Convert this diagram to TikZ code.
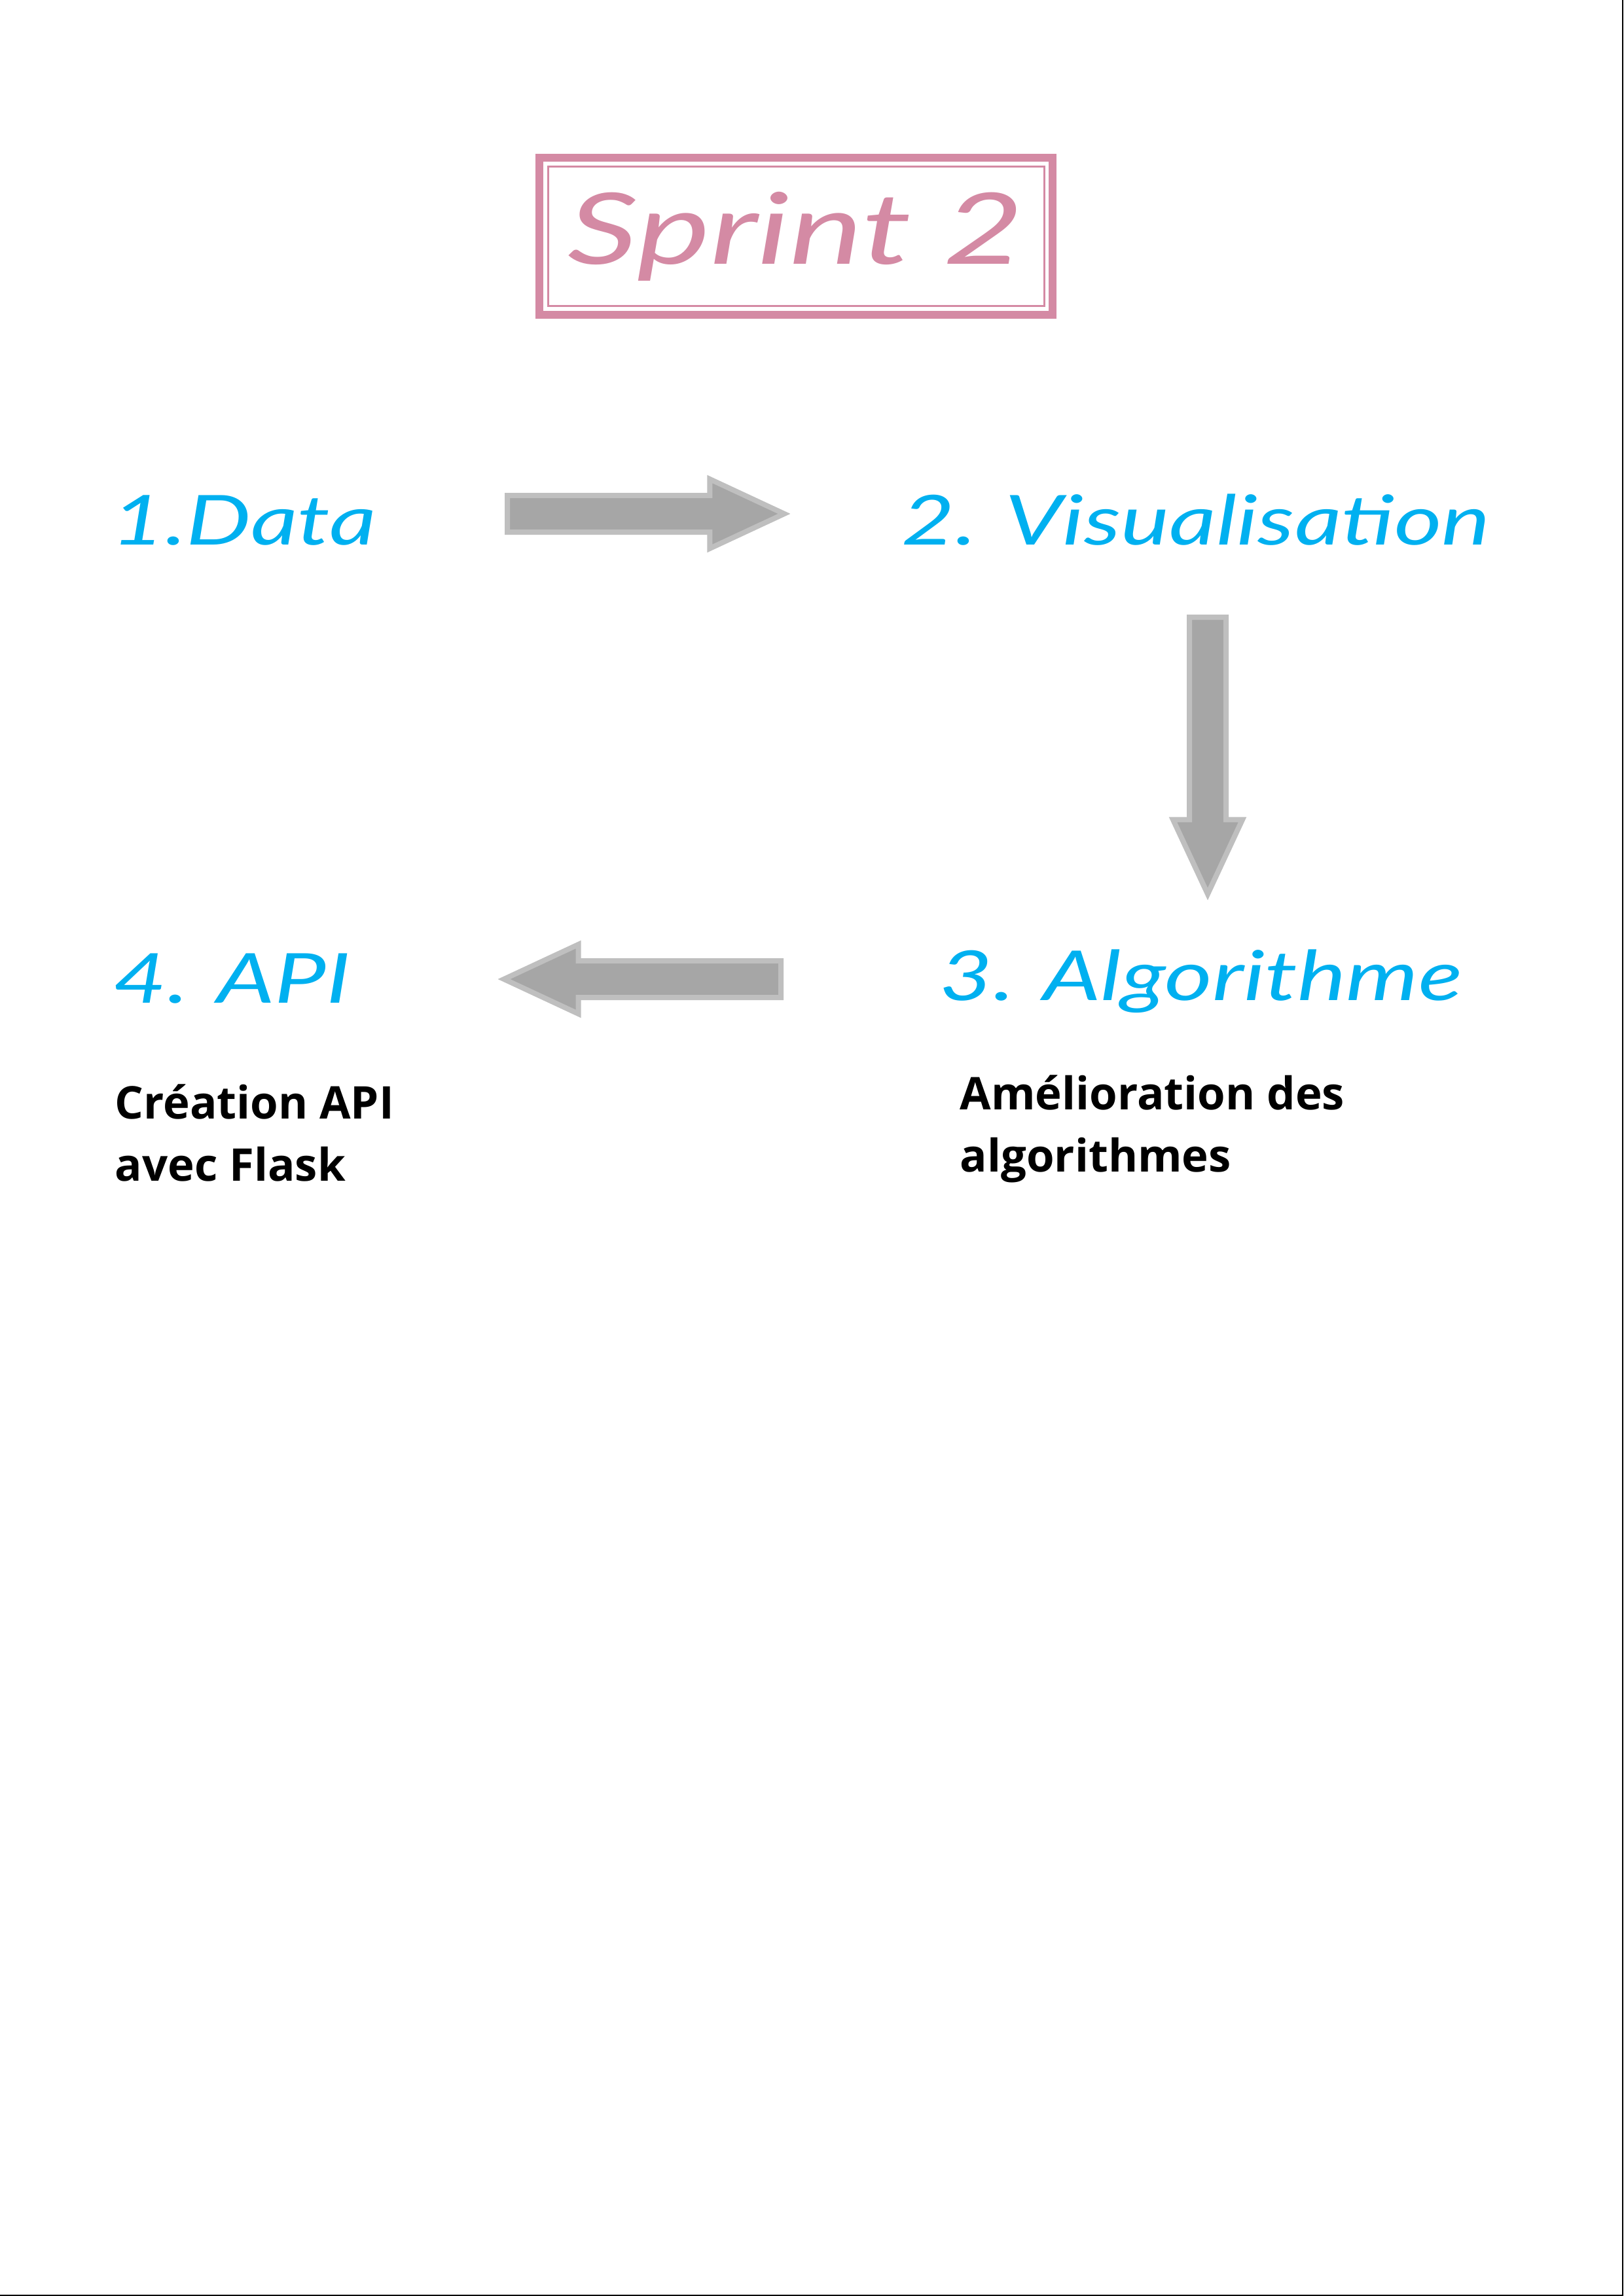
\documentclass[tikz,border=0pt]{standalone}
\usepackage{fontspec}
\setsansfont{Open Sans}
\newfontfamily\handfont[FakeStretch=1.33]{Lato}
\newfontfamily\titlefont[FakeStretch=1.4]{Lato}
\usetikzlibrary{shapes.arrows}
\definecolor{sprintpink}{HTML}{D48AA4}
\definecolor{stepblue}{HTML}{00B0F0}
\definecolor{arrowfill}{HTML}{A6A6A6}
\definecolor{arrowedge}{HTML}{BFBFBF}

\begin{document}
\begin{tikzpicture}[titlebox/.style={draw=sprintpink, line width=0.12cm, minimum width=7.84cm, minimum height=2.40cm, outer sep=0pt, text=sprintpink, font=\titlefont\itshape\fontsize{43}{50}\selectfont},
    steplabel/.style={anchor=base west, inner sep=0pt, text=stepblue, font=\handfont\itshape\fontsize{30}{36}\selectfont},
    notelabel/.style={anchor=north west, inner sep=0pt, align=left, font=\sffamily\bfseries\fontsize{19.6}{27}\selectfont},
    bigarrow/.style={single arrow, draw=arrowedge, fill=arrowfill, line width=0.08cm, inner xsep=0pt, inner ysep=0.24cm, minimum height=4.23cm, single arrow head extend=0.25cm, single arrow tip angle=50, outer sep=0pt, anchor=tail}]
        \useasboundingbox (0, 0) rectangle (24.8, -35.08);
        \node[titlebox] (title) at (12.16, -3.61) {Sprint 2};
        \draw[sprintpink, line width=0.03cm] ([shift={(0.13, -0.135)}]title.north west) rectangle ([shift={(-0.13, 0.135)}]title.south east);

        \node[steplabel] (data) at (1.70, -8.32) {1.Data};
        \node[steplabel] (visu) at (13.77, -8.32) {2. Visualisation};
        \node[steplabel] (algo) at (14.35, -15.28) {3. Algorithme};
        \node[steplabel] (api) at (1.73, -15.32) {4. API};

        \node[notelabel] (algonote) at (14.66, -16.42) {Amélioration des\\algorithmes};
        \node[notelabel] (apinote) at (1.75, -16.56) {Création API\\avec Flask};

        \node[bigarrow] (arrowone) at (7.75, -7.85) {};
        \node[bigarrow, rotate=-90] (arrowtwo) at (18.45, -9.43) {};
        \node[bigarrow, rotate=180] (arrowthree) at (11.93, -14.96) {};

        \draw[line width=0.02cm] (24.79, 0) -- (24.79, -35.07) -- (0, -35.07);
    \end{tikzpicture}
\end{document}
